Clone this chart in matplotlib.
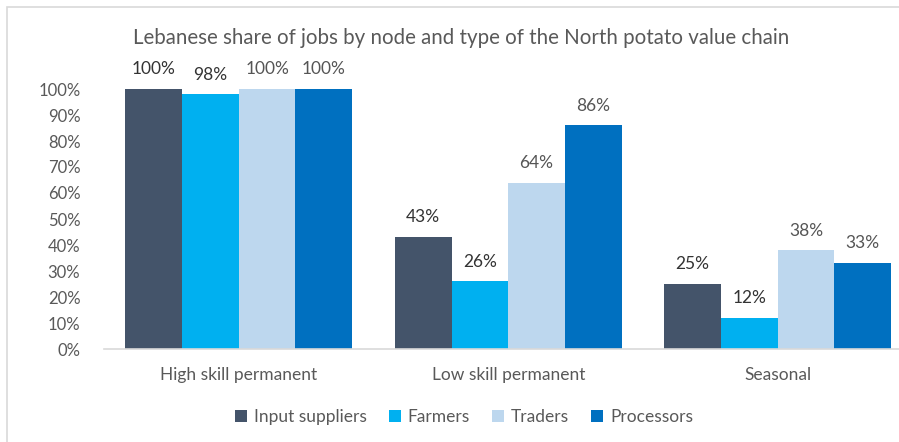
import matplotlib.pyplot as plt
import numpy as np
from matplotlib.patches import Rectangle

plt.rcParams['font.family'] = ['Lato', 'DejaVu Sans']

# доли ливанцев по узлам цепочки и типу занятости
categories = ['High skill permanent', 'Low skill permanent', 'Seasonal']
series = ['Input suppliers', 'Farmers', 'Traders', 'Processors']
input_suppliers = [1.00, 0.43, 0.25]
farmers = [0.98, 0.26, 0.12]
traders = [1.00, 0.64, 0.38]
processors = [1.00, 0.86, 0.33]
values = [input_suppliers, farmers, traders, processors]
colors = ['#44546A', '#00B0F0', '#BDD7EE', '#0070C0']
label_colors = ['#333333', '#333333', '#555555', '#555555']

W, H = 899, 442
fig = plt.figure(figsize=(W / 100, H / 100), dpi=100)

# рамка диаграммы (справа и снизу обрезана)
fig.patches.append(Rectangle((7 / W, -0.1), 1.2, 1 - 7 / H + 0.1, transform=fig.transFigure,
                             fill=False, edgecolor='#D9D9D9', linewidth=1.2))

ax = fig.add_axes([104 / W, 1 - 349 / H, 808.5 / W, 260 / H])
x = np.arange(len(categories))
bw = 0.2105
for i, (name, vals) in enumerate(zip(series, values)):
    pos = x + (i - 1.5) * bw
    ax.bar(pos, vals, bw, color=colors[i], label=name)
    for p, v in zip(pos, vals):
        ax.text(p, v + 0.045, f'{round(v * 100)}%', ha='center', va='bottom',
                fontsize=12.5, color=label_colors[i])

ax.set_xlim(-0.5, 2.5)
ax.set_ylim(0, 1)
ax.set_yticks(np.arange(0, 1.01, 0.1))
ax.set_yticklabels([f'{t}%' for t in range(0, 101, 10)])
ax.set_xticks(x)
ax.set_xticklabels(categories)
ax.tick_params(axis='both', length=0, labelsize=12, labelcolor='#595959')
ax.tick_params(axis='x', labelsize=12.5, pad=13)
ax.tick_params(axis='y', pad=17)
for s in ['top', 'right', 'left']:
    ax.spines[s].set_visible(False)
ax.spines['bottom'].set_color('#D9D9D9')
ax.spines['bottom'].set_linewidth(1.2)
ax.set_facecolor('none')

fig.text(461 / W, 1 - 38 / H, 'Lebanese share of jobs by node and type of the North potato value chain',
         ha='center', va='center', fontsize=14.8, color='#595959')

fig.legend(loc='center', bbox_to_anchor=(464 / W, 1 - 417 / H), ncol=4, frameon=False,
           fontsize=12.5, labelcolor='#595959', handlelength=0.7, handleheight=0.7,
           handletextpad=0.4, columnspacing=1.27)

fig.savefig('out.png', dpi=100)
